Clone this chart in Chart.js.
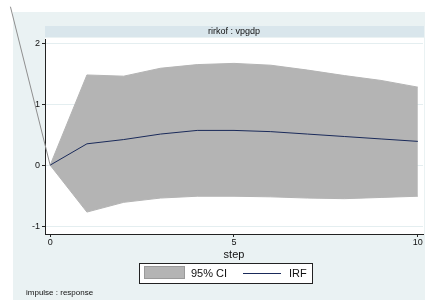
<!DOCTYPE html>
<html>
<head>
<meta charset="utf-8">
<script src="https://cdn.jsdelivr.net/npm/chart.js@4/dist/chart.umd.min.js"></script>
<style>
    html, body { margin: 0; padding: 0; background: #fff; }
    #wrap { width: 427px; height: 302px; }
</style>
</head>
<body>
<div id="wrap"><canvas id="irf"></canvas></div>
<script>
// 資料 (由圖片估計)
const steps = [0, 1, 2, 3, 4, 5, 6, 7, 8, 9, 10];
const irfValues = [0, 0.35, 0.42, 0.51, 0.57, 0.57, 0.55, 0.51, 0.47, 0.43, 0.39];
const ciUpper = [0, 1.48, 1.46, 1.59, 1.65, 1.67, 1.64, 1.56, 1.47, 1.39, 1.28];
const ciLower = [0, -0.77, -0.61, -0.54, -0.51, -0.51, -0.52, -0.54, -0.55, -0.53, -0.51];
// 左上角那條斜線 (原圖的多餘線段)
const strayX = [-1.08, 0];
const strayY = [2.6, 0];
const xTicks = [0, 5, 10];
const yTicks = [-1, 0, 1, 2];
const panelTitle = 'rirkof : vpgdp';
const xTitle = 'step';
const noteText = 'impulse : response';

const FONT = '"Liberation Sans", Arial, sans-serif';

function toPoints(xs, ys) {
    return xs.map((x, i) => ({ x: x, y: ys[i] }));
}

/**
 * 背景、標題列、圖例與註腳
 */
const stataFrame = {
    id: 'stataFrame',
    beforeDraw(chart) {
        const ctx = chart.ctx;
        const a = chart.chartArea;
        ctx.save();
        ctx.fillStyle = '#ffffff';
        ctx.fillRect(0, 0, chart.width, chart.height);
        // 外框底色
        ctx.fillStyle = '#eaf2f3';
        ctx.fillRect(13, 12, 412, 288);
        // 繪圖區
        ctx.fillStyle = '#ffffff';
        ctx.fillRect(a.left, a.top - 1, a.right - a.left + 1, a.bottom - a.top + 1);
        // 標題列
        ctx.fillStyle = '#d9e6ec';
        ctx.fillRect(a.left, 26, a.right - a.left + 1, 11);
        ctx.fillStyle = '#111';
        ctx.font = '9px ' + FONT;
        ctx.textAlign = 'center';
        ctx.textBaseline = 'middle';
        ctx.fillText(panelTitle, (a.left + a.right) / 2, 32);
        ctx.restore();
    },
    afterDraw(chart) {
        const ctx = chart.ctx;
        const ds = chart.data.datasets;
        ctx.save();
        // 圖例框
        ctx.fillStyle = '#ffffff';
        ctx.fillRect(139, 263, 173, 20);
        ctx.strokeStyle = '#222';
        ctx.lineWidth = 1;
        ctx.strokeRect(139.5, 263.5, 173, 20);
        ctx.fillStyle = '#b4b4b4';
        ctx.fillRect(144, 266, 41, 13);
        ctx.strokeStyle = '#9a9a9a';
        ctx.strokeRect(144.5, 266.5, 40, 12);
        ctx.strokeStyle = '#1a2a5a';
        ctx.beginPath();
        ctx.moveTo(243, 273.5);
        ctx.lineTo(281, 273.5);
        ctx.stroke();
        ctx.fillStyle = '#111';
        ctx.font = '11px ' + FONT;
        ctx.textAlign = 'left';
        ctx.textBaseline = 'middle';
        ctx.fillText(ds[1].label, 191, 273.5);
        ctx.fillText(ds[0].label, 289, 273.5);
        // 註腳
        ctx.font = '8px ' + FONT;
        ctx.fillText(noteText, 26, 293);
        ctx.restore();
    }
};

const ctx = document.getElementById('irf');
new Chart(ctx.getContext('2d'), {
    type: 'line',
    data: {
        datasets: [
            {
                label: 'IRF',
                data: toPoints(steps, irfValues),
                borderColor: '#1a2a5a',
                borderWidth: 1,
                pointRadius: 0,
                fill: false
            },
            {
                label: '95% CI',
                data: toPoints(steps, ciUpper),
                borderColor: '#b4b4b4',
                backgroundColor: '#b4b4b4',
                borderWidth: 1,
                pointRadius: 0,
                fill: '+1'
            },
            {
                label: 'lower',
                data: toPoints(steps, ciLower),
                borderColor: '#b4b4b4',
                borderWidth: 1,
                pointRadius: 0,
                fill: false
            },
            {
                label: 'stray',
                data: toPoints(strayX, strayY),
                borderColor: '#8f8f8f',
                borderWidth: 1,
                pointRadius: 0,
                fill: false,
                clip: false
            }
        ]
    },
    options: {
        responsive: true,
        maintainAspectRatio: false,
        animation: false,
        layout: { padding: { left: 0, top: 39, right: 4, bottom: 40 } },
        plugins: {
            legend: { display: false },
            tooltip: { enabled: false }
        },
        scales: {
            x: {
                type: 'linear',
                min: -0.14,
                max: 10.14,
                afterBuildTicks: s => { s.ticks = xTicks.map(v => ({ value: v })); },
                afterFit: s => { s.height = 28; },
                grid: { color: 'transparent', tickColor: '#222', tickLength: 3, drawOnChartArea: false },
                border: { display: true, color: '#222', width: 1 },
                ticks: { color: '#111', font: { family: FONT, size: 9 }, padding: 0, maxRotation: 0 },
                title: { display: true, text: xTitle, color: '#111', font: { family: FONT, size: 11 }, padding: 0 }
            },
            y: {
                type: 'linear',
                min: -1.13,
                max: 2.07,
                afterBuildTicks: s => { s.ticks = yTicks.map(v => ({ value: v })); },
                afterFit: s => { s.width = 45; },
                grid: { color: '#e4eef0', tickColor: '#222', tickLength: 3 },
                border: { display: true, color: '#222', width: 1 },
                ticks: { color: '#111', font: { family: FONT, size: 9 }, padding: 2 }
            }
        }
    },
    plugins: [stataFrame]
});
</script>
</body>
</html>
